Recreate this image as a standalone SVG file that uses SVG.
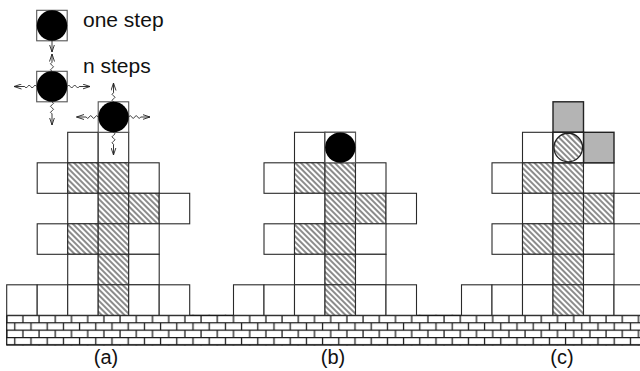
<svg xmlns="http://www.w3.org/2000/svg" xmlns:xlink="http://www.w3.org/1999/xlink" width="640" height="371" viewBox="0 0 640 371">
  <style>
    .cell { fill: #fff; stroke: #2a2a2a; stroke-width: 1.1; }
    .hat { fill: url(#hatch); stroke: #2a2a2a; stroke-width: 1.1; }
    .box { fill: #fff; stroke: #555; stroke-width: 1.1; }
    .ball { fill: #000; }
    .grey { fill: #b4b4b4; stroke: #222; stroke-width: 1.4; }
    .wave { fill: none; stroke: #222; stroke-width: 0.9; marker-end: url(#arr); }
    .txt { font-family: "Liberation Sans", Arial, sans-serif; font-size: 21px; fill: #111; }
    .lbl { font-family: "Liberation Sans", Arial, sans-serif; font-size: 20px; fill: #111; text-anchor: middle; }
  </style>
  <defs>
    <pattern id="hatch" width="4" height="4" patternUnits="userSpaceOnUse" patternTransform="rotate(45)">
      <rect x="0" y="0" width="4" height="4" fill="#fff"/>
      <rect x="0" y="1.5" width="4" height="1" fill="#1a1a1a"/>
    </pattern>
    <pattern id="bricks" x="5.7" y="314.3" width="16.2" height="14.8" patternUnits="userSpaceOnUse">
      <path d="M0,1H16.2M0,8.4H16.2M1,1V8.4M9.1,8.4V14.8M9.1,0V1" fill="none" stroke="#1a1a1a" stroke-width="1.25"/>
    </pattern>
    <marker id="arr" viewBox="0 0 8 6" refX="7.5" refY="3" markerWidth="8" markerHeight="6" markerUnits="userSpaceOnUse" orient="auto">
      <path d="M0,0.5 L7.5,3 L0,5.5" fill="none" stroke="#222" stroke-width="0.9"/>
    </marker>
    <!-- tower body shared by the three panels; cell size 30.5 -->
    <g id="body">
      <rect class="cell" x="61" y="0" width="30.5" height="30.5"/>
      <rect class="cell" x="91.5" y="0" width="30.5" height="30.5"/>

      <rect class="cell" x="30.5" y="30.5" width="30.5" height="30.5"/>
      <rect class="hat" x="61" y="30.5" width="30.5" height="30.5"/>
      <rect class="hat" x="91.5" y="30.5" width="30.5" height="30.5"/>
      <rect class="cell" x="122" y="30.5" width="30.5" height="30.5"/>

      <rect class="cell" x="61" y="61" width="30.5" height="30.5"/>
      <rect class="hat" x="91.5" y="61" width="30.5" height="30.5"/>
      <rect class="hat" x="122" y="61" width="30.5" height="30.5"/>
      <rect class="cell" x="152.5" y="61" width="30.5" height="30.5"/>

      <rect class="cell" x="30.5" y="91.5" width="30.5" height="30.5"/>
      <rect class="hat" x="61" y="91.5" width="30.5" height="30.5"/>
      <rect class="hat" x="91.5" y="91.5" width="30.5" height="30.5"/>
      <rect class="cell" x="122" y="91.5" width="30.5" height="30.5"/>

      <rect class="cell" x="61" y="122" width="30.5" height="30.5"/>
      <rect class="hat" x="91.5" y="122" width="30.5" height="30.5"/>
      <rect class="cell" x="122" y="122" width="30.5" height="30.5"/>

      <rect class="cell" x="0" y="152.5" width="30.5" height="30.5"/>
      <rect class="cell" x="30.5" y="152.5" width="30.5" height="30.5"/>
      <rect class="cell" x="61" y="152.5" width="30.5" height="30.5"/>
      <rect class="hat" x="91.5" y="152.5" width="30.5" height="30.5"/>
      <rect class="cell" x="122" y="152.5" width="30.5" height="30.5"/>
      <rect class="cell" x="152.5" y="152.5" width="30.5" height="30.5"/>
    </g>
  </defs>

  <rect width="640" height="371" fill="#fff"/>

  <!-- brick wall underneath -->
  <g id="wall">
    <rect x="6.1" y="314.7" width="640" height="30.9" fill="url(#bricks)"/>
    <path d="M6.7,315.3H640M6.7,315.3V344.9M6.7,344.9H640" fill="none" stroke="#1a1a1a" stroke-width="1.25"/>
  </g>

  <!-- legend -->
  <g id="legend-one">
    <rect class="box" x="36.7" y="10.3" width="30.5" height="30.5"/>
    <circle class="ball" cx="52" cy="25.5" r="15.2"/>
    <text class="txt" x="83" y="27">one step</text>
  </g>
  <g id="legend-n">
    <rect class="box" x="36.7" y="71.3" width="30.5" height="30.5"/>
    <circle class="ball" cx="52" cy="86.5" r="15.2"/>
    <text class="txt" x="83" y="73">n steps</text>
  </g>

  <!-- panel (a) -->
  <g id="panel-a">
    <use xlink:href="#body" href="#body" transform="translate(6.7,132.3)"/>
    <rect class="box" x="98.2" y="101.8" width="30.5" height="30.5"/>
    <circle class="ball" cx="113.5" cy="117" r="15.2"/>
    <text class="lbl" x="106" y="364">(a)</text>
  </g>

  <!-- panel (b) -->
  <g id="panel-b">
    <use xlink:href="#body" href="#body" transform="translate(233.5,132.3)"/>
    <rect class="box" x="325" y="132.3" width="30.5" height="30.5"/>
    <circle class="ball" cx="340.3" cy="147.6" r="15.2"/>
    <text class="lbl" x="333" y="364">(b)</text>
  </g>

  <!-- panel (c) -->
  <g id="panel-c">
    <use xlink:href="#body" href="#body" transform="translate(461.5,132.3)"/>
    <rect class="grey" x="553" y="101.8" width="30.5" height="30.5"/>
    <rect class="grey" x="583.5" y="132.3" width="30.5" height="30.5"/>
    <rect x="553" y="132.3" width="30.5" height="30.5" fill="#fff" stroke="#222" stroke-width="1.4"/>
    <circle cx="568.25" cy="147.55" r="14.3" fill="url(#hatch)" stroke="#222" stroke-width="1.3"/>
    <text class="lbl" x="562" y="364">(c)</text>
  </g>

  <!-- wavy move arrows -->
  <g id="connectors">
    <path class="wave" d="M52,40.8 L52,52"/>
    <path class="wave" d="M52,71.3 q-3,-1.5 0,-3 t0,-3 t0,-3 L52,54"/>

    <path class="wave" d="M36.7,86.5 q-1.5,-3 -3,0 t-3,0 t-3,0 t-3,0 L14,86.5"/>
    <path class="wave" d="M67.2,86.5 q1.5,-3 3,0 t3,0 t3,0 t3,0 L90,86.5"/>
    <path class="wave" d="M52,101.8 q3,1.5 0,3 t0,3 t0,3 t0,3 L52,125"/>

    <path class="wave" d="M113.5,101.8 q-3,-1.5 0,-3 t0,-3 t0,-3 L113.5,83"/>
    <path class="wave" d="M98.2,117 q-1.5,-3 -3,0 t-3,0 t-3,0 t-3,0 L76.5,117"/>
    <path class="wave" d="M128.7,117 q1.5,-3 3,0 t3,0 t3,0 t3,0 L150,117"/>
    <path class="wave" d="M113.5,132.3 q3,1.5 0,3 t0,3 t0,3 t0,3 L113.5,155"/>
  </g>
</svg>
